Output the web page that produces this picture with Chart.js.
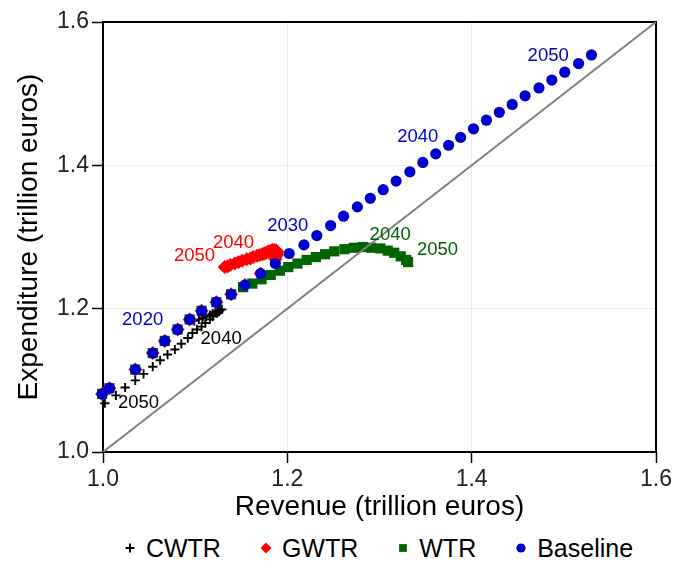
<!DOCTYPE html>
<html>
<head>
<meta charset="utf-8">
<script src="https://cdn.jsdelivr.net/npm/chart.js@4.4.1/dist/chart.umd.min.js"></script>
<style>
  body { margin: 0; background: #fff; }
  #wrap { position: relative; width: 675px; height: 569px; background: #fff; }
  #chart { position: absolute; left: 0; top: 0; }
  #legend {
    position: absolute; left: 80px; top: 528px; width: 595px; height: 40px;
    display: flex; justify-content: center; align-items: center; gap: 37px;
    font: 25px "Liberation Sans", Arial, Helvetica, sans-serif; color: #000;
  }
  #legend .item { display: flex; align-items: center; }
  #legend canvas { margin-right: 8px; }
</style>
</head>
<body>
<div id="wrap">
  <canvas id="chart" width="675" height="525"></canvas>
  <div id="legend"></div>
</div>
<script>
/* ── Revenue vs expenditure paths, 2014–2050 ─────────────────────────────────── */

// ── Data (trillion euros) ─────────────────────────────────────────────────────
const baselineRevenue = [0.999, 1.007, 1.035, 1.054, 1.067, 1.081, 1.094, 1.107, 1.123, 1.139,
  1.154, 1.171, 1.187, 1.202, 1.218, 1.232, 1.247, 1.261, 1.276, 1.290, 1.304, 1.318, 1.333,
  1.347, 1.361, 1.375, 1.388, 1.402, 1.416, 1.430, 1.444, 1.458, 1.473, 1.487, 1.501, 1.516, 1.530];
const baselineExpenditure = [1.081, 1.089, 1.115, 1.138, 1.155, 1.171, 1.185, 1.197, 1.209, 1.220,
  1.233, 1.249, 1.263, 1.277, 1.289, 1.302, 1.316, 1.329, 1.342, 1.354, 1.366, 1.378, 1.391,
  1.404, 1.416, 1.428, 1.439, 1.451, 1.463, 1.474, 1.485, 1.497, 1.508, 1.519, 1.530, 1.542, 1.554];

const wtrRevenue = [0.999, 1.007, 1.035, 1.054, 1.067, 1.081, 1.094, 1.107, 1.123, 1.139,
  1.152, 1.162, 1.172, 1.182, 1.192, 1.201, 1.211, 1.221, 1.231, 1.241, 1.251, 1.262, 1.272,
  1.282, 1.291, 1.301, 1.309, 1.316, 1.323, 1.329, 1.331];
const wtrExpenditure = [1.081, 1.089, 1.115, 1.138, 1.155, 1.171, 1.185, 1.197, 1.209, 1.220,
  1.230, 1.235, 1.241, 1.247, 1.253, 1.258, 1.263, 1.268, 1.272, 1.276, 1.280, 1.283, 1.285,
  1.286, 1.285, 1.284, 1.281, 1.278, 1.273, 1.268, 1.265];

const gwtrRevenue = [0.999, 1.007, 1.035, 1.054, 1.067, 1.081, 1.094, 1.107, 1.123, 1.139,
  1.154, 1.171, 1.187, 1.189, 1.189, 1.188, 1.186, 1.184, 1.183, 1.182, 1.180, 1.179, 1.177,
  1.175, 1.173, 1.170, 1.167, 1.163, 1.160, 1.156, 1.151, 1.147, 1.143, 1.138, 1.135, 1.132];
const gwtrExpenditure = [1.081, 1.089, 1.115, 1.138, 1.155, 1.171, 1.185, 1.197, 1.209, 1.220,
  1.233, 1.249, 1.269, 1.275, 1.279, 1.281, 1.282, 1.282, 1.281, 1.280, 1.280, 1.279, 1.278,
  1.277, 1.276, 1.275, 1.274, 1.272, 1.270, 1.269, 1.267, 1.265, 1.263, 1.261, 1.259, 1.258];

const cwtrRevenue = [0.999, 1.007, 1.035, 1.054, 1.067, 1.081, 1.094,
  1.099, 1.104, 1.108, 1.112, 1.116, 1.119, 1.122, 1.125, 1.127, 1.129,
  1.126, 1.124, 1.119, 1.116, 1.111, 1.107, 1.102, 1.097, 1.092, 1.085,
  1.078, 1.070, 1.062, 1.054, 1.044, 1.035, 1.024, 1.014, 1.002];
const cwtrExpenditure = [1.081, 1.089, 1.115, 1.138, 1.155, 1.171, 1.185,
  1.183, 1.185, 1.187, 1.189, 1.191, 1.193, 1.195, 1.197, 1.198, 1.199,
  1.196, 1.194, 1.189, 1.185, 1.180, 1.175, 1.171, 1.166, 1.159, 1.151,
  1.143, 1.136, 1.128, 1.119, 1.109, 1.100, 1.090, 1.079, 1.068];

const axisTicks = [1.0, 1.2, 1.4, 1.6];

// year tags beside the paths: text, anchor (revenue, expenditure), series colour
const yearTags = [
  ['2020', 1.043, 1.184, 'baseline'], ['2030', 1.2005, 1.315, 'baseline'],
  ['2040', 1.3415, 1.439, 'baseline'], ['2050', 1.483, 1.553, 'baseline'],
  ['2040', 1.1416, 1.292, 'gwtr'],     ['2050', 1.0993, 1.274, 'gwtr'],
  ['2040', 1.3116, 1.3035, 'wtr'],     ['2050', 1.3629, 1.2825, 'wtr'],
  ['2040', 1.1282, 1.158, 'cwtr'],     ['2050', 1.0385, 1.069, 'cwtr'],
];

const COLORS = { cwtr: '#000000', gwtr: '#ff0000', wtr: '#006400', baseline: '#0000cd' };

const toPoints = (xs, ys) => xs.map((x, i) => ({ x, y: ys[i] }));

Chart.defaults.font.family = '"Liberation Sans", Arial, Helvetica, sans-serif';

// ── Plot frame and year tags ──────────────────────────────────────────────────
const framePlugin = {
  id: 'frame',
  beforeDatasetsDraw(chart) {
    const { ctx, chartArea: a } = chart;
    ctx.save();
    ctx.strokeStyle = '#000';
    ctx.lineWidth = 2;
    ctx.strokeRect(a.left, a.top, a.right - a.left, a.bottom - a.top);
    ctx.restore();
  },
};

const yearTagPlugin = {
  id: 'yearTags',
  afterDatasetsDraw(chart) {
    const { ctx, scales: { x, y } } = chart;
    ctx.save();
    ctx.font = '18.5px "Liberation Sans", Arial, sans-serif';
    ctx.textAlign = 'center';
    ctx.textBaseline = 'middle';
    yearTags.forEach(([text, rx, ey, key]) => {
      ctx.fillStyle = COLORS[key];
      ctx.fillText(text, x.getPixelForValue(rx), y.getPixelForValue(ey));
    });
    ctx.restore();
  },
};

const axisOpts = (title, fit, titlePad) => ({
  type: 'linear', min: 1.0, max: 1.6,
  afterBuildTicks: s => { s.ticks = axisTicks.map(v => ({ value: v })); },
  afterFit: fit,
  border: { display: false },
  grid: { color: '#ececec', lineWidth: 1, tickColor: '#000', tickWidth: 1.5, tickLength: 11 },
  ticks: { font: { size: 23 }, color: '#222', padding: 3, maxRotation: 0,
           callback: v => v.toFixed(1) },
  title: { display: true, text: title, color: '#000', font: { size: 28 }, padding: titlePad },
});

const series = [
  { label: 'CWTR', key: 'cwtr', style: 'cross', r: 4.6, bw: 1.9, order: 4,
    data: toPoints(cwtrRevenue, cwtrExpenditure) },
  { label: 'GWTR', key: 'gwtr', style: 'rectRot', r: 7, bw: 0, order: 3,
    data: toPoints(gwtrRevenue, gwtrExpenditure) },
  { label: 'WTR', key: 'wtr', style: 'rect', r: 7.2, bw: 0, order: 2,
    data: toPoints(wtrRevenue, wtrExpenditure) },
  { label: 'Baseline', key: 'baseline', style: 'circle', r: 5.6, bw: 0, order: 1,
    data: toPoints(baselineRevenue, baselineExpenditure) },
];

const datasets = series.map(s => ({
  label: s.label,
  data: s.data,
  order: s.order,
  clip: false,
  pointStyle: s.style,
  pointRadius: s.r,
  pointHoverRadius: s.r,
  pointBackgroundColor: COLORS[s.key],
  pointBorderColor: COLORS[s.key],
  pointBorderWidth: s.bw,
}));

// 45° line: revenue = expenditure
datasets.push({
  label: 'balance', type: 'line', order: 0,
  data: [{ x: 1.0, y: 1.0 }, { x: 1.6, y: 1.6 }],
  borderColor: '#808080', borderWidth: 2, pointRadius: 0, showLine: true,
});

new Chart(document.getElementById('chart'), {
  type: 'scatter',
  data: { datasets },
  options: {
    responsive: false,
    animation: false,
    events: [],
    layout: { padding: { top: 22, right: 19, bottom: 0, left: 0 } },
    plugins: { legend: { display: false }, tooltip: { enabled: false } },
    scales: {
      x: axisOpts('Revenue (trillion euros)', s => { s.height = 73; }, { top: 0, bottom: 1 }),
      y: axisOpts('Expenditure (trillion euros)', s => { s.width = 103; }, { top: 12, bottom: 0 }),
    },
  },
  plugins: [framePlugin, yearTagPlugin],
});

// ── Legend ────────────────────────────────────────────────────────────────────
const legendEl = document.getElementById('legend');
const legendSize = { cross: 4.5, rectRot: 5.5, rect: 5.5, circle: 4.6 };
series.forEach(s => {
  const item = document.createElement('div');
  item.className = 'item';
  const mark = document.createElement('canvas');
  mark.width = 16; mark.height = 16;
  const mctx = mark.getContext('2d');
  mctx.fillStyle = COLORS[s.key];
  mctx.strokeStyle = COLORS[s.key];
  mctx.lineWidth = s.bw || 0;
  Chart.helpers.drawPoint(mctx, { pointStyle: s.style, radius: legendSize[s.style],
                                  borderWidth: s.bw, rotation: 0 }, 8, 8);
  const text = document.createElement('span');
  text.textContent = s.label;
  item.appendChild(mark);
  item.appendChild(text);
  legendEl.appendChild(item);
});
</script>
</body>
</html>
